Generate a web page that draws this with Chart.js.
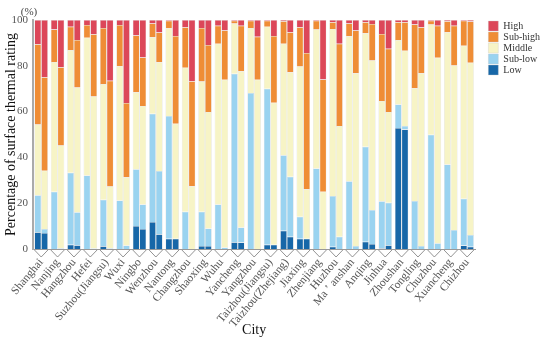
<!DOCTYPE html>
<html>
<head>
<meta charset="utf-8">
<script src="https://cdn.jsdelivr.net/npm/chart.js@4"></script>
<style>
  body { margin: 0; background: #fff; }
  #box { width: 550px; height: 345px; }
</style>
</head>
<body>
<div id="box"><canvas id="myChart"></canvas></div>
<script>
var cities = ["Shanghai", "Nanjing", "Hangzhou", "Hefei", "Suzhou(Jiangsu)", "Wuxi", "Ningbo", "Wenzhou", "Nantong",
  "Changzhou", "Shaoxing", "Wuhu", "Yancheng", "Yangzhou", "Taizhou(Jiangsu)", "Taizhou(Zhejiang)", "Jiaxing",
  "Zhenjiang", "Huzhou", "Ma ’ anshan", "Anqing", "Jinhua", "Zhoushan", "Tongling", "Chuzhou", "Xuancheng", "Chizhou"];

// first bar of each pair
var lowA     = [7.3, 0, 1.9, 0, 1.2, 0, 10.0, 11.8, 4.5, 0, 1.3, 0, 2.9, 0, 1.9, 8.0, 4.5, 0, 1.0, 0, 3.2, 0.3, 52.8, 0, 0, 0, 1.5];
var subLowA  = [16.2, 25.0, 31.4, 32.1, 20.3, 21.2, 24.8, 47.3, 53.6, 16.3, 15.0, 19.4, 73.6, 68.1, 68.1, 32.9, 9.6, 35.1, 22.1, 29.6, 41.4, 20.6, 10.3, 21.0, 49.9, 36.9, 20.4];
var middleA  = [30.9, 56.7, 53.6, 60.1, 50.6, 58.6, 33.7, 33.4, 38.3, 62.8, 56.8, 70.2, 22.0, 28.4, 27.1, 48.7, 65.6, 60.7, 73.0, 63.3, 49.6, 43.7, 28.2, 49.2, 48.1, 57.7, 66.9];
var subHighA = [35.0, 14.2, 10.2, 5.6, 24.4, 18.0, 24.7, 6.0, 3.3, 17.7, 23.4, 7.9, 1.2, 3.2, 2.6, 9.9, 17.1, 3.9, 2.9, 5.6, 4.8, 29.3, 7.7, 27.8, 1.7, 4.8, 10.9];
var highA    = [10.6, 4.1, 2.9, 2.2, 3.5, 2.2, 6.8, 1.5, 0.3, 3.2, 3.5, 2.5, 0.3, 0.3, 0.3, 0.5, 3.2, 0.3, 1.0, 1.5, 1.0, 6.1, 1.0, 2.0, 0.3, 0.6, 0.3];

// second bar of each pair
var lowB     = [7.0, 0, 1.6, 0, 0, 0, 8.7, 6.4, 4.5, 0, 1.3, 0, 2.8, 0, 1.9, 5.4, 4.5, 0, 0, 0, 2.2, 1.6, 52.2, 0, 0, 0, 1.0];
var subLowB  = [1.7, 0.3, 14.5, 0.2, 0.3, 1.5, 10.7, 27.7, 0, 0, 7.7, 0.7, 6.6, 0, 0, 26.1, 0, 0, 5.4, 1.3, 14.8, 18.6, 1.5, 1.3, 2.5, 8.3, 5.1];
var middleB  = [25.5, 44.9, 54.4, 66.4, 27.0, 29.8, 43.0, 47.5, 50.2, 27.4, 50.8, 73.2, 68.2, 73.9, 62.0, 45.7, 21.6, 25.0, 48.3, 75.5, 65.3, 39.6, 32.9, 75.5, 81.0, 71.8, 75.2];
var subHighB = [40.8, 34.2, 20.8, 27.2, 46.2, 32.5, 21.2, 12.9, 38.3, 45.9, 29.3, 21.5, 19.9, 18.8, 29.1, 17.4, 59.5, 49.0, 35.9, 18.6, 16.0, 27.6, 12.4, 20.0, 14.0, 17.4, 18.0];
var highB    = [25.0, 20.6, 8.7, 6.2, 26.5, 36.2, 16.4, 5.5, 7.0, 26.7, 10.9, 4.6, 2.5, 7.3, 7.0, 5.4, 14.4, 26.0, 10.4, 4.6, 1.7, 12.6, 1.0, 3.2, 2.5, 2.5, 0.7];

var ratings = ["Low", "Sub-low", "Middle", "Sub-high", "High"];
var colors = ["#1767a8", "#9ad3f0", "#f7f4c6", "#ef8d36", "#dc4759"];
var yTicks = [0, 20, 40, 60, 80, 100];

var serif = "'Liberation Serif', 'DejaVu Serif', serif";
var seriesA = [lowA, subLowA, middleA, subHighA, highA];
var seriesB = [lowB, subLowB, middleB, subHighB, highB];

var datasets = [];
[seriesA, seriesB].forEach(function (series, s) {
  series.forEach(function (vals, i) {
    datasets.push({
      label: ratings[i],
      data: vals,
      stack: s == 0 ? "a" : "b",
      backgroundColor: colors[i],
      borderColor: "rgba(200,200,200,0.7)",
      borderWidth: 0.5,
      categoryPercentage: 0.82,
      barPercentage: 1.0
    });
  });
});

// V shaped ticks under every city and the (%) label
var extras = {
  id: "extras",
  afterDraw: function (chart) {
    var ctx = chart.ctx;
    var xs = chart.scales.x;
    var area = chart.chartArea;
    var half = xs.width / cities.length * 0.82 / 2;
    ctx.save();
    ctx.strokeStyle = "#777";
    ctx.lineWidth = 0.8;
    ctx.beginPath();
    for (var i = 0; i < cities.length; i++) {
      var cx = xs.getPixelForValue(i);
      ctx.moveTo(cx - half, area.bottom + 1);
      ctx.lineTo(cx, area.bottom + 8);
      ctx.lineTo(cx + half, area.bottom + 1);
    }
    ctx.stroke();
    ctx.fillStyle = "#444";
    ctx.font = "11px " + serif;
    ctx.textAlign = "center";
    ctx.textBaseline = "bottom";
    ctx.fillText("(%)", area.left - 4, area.top - 2);
    ctx.restore();
  }
};

// leave a gap between the plot and the legend
var legendGap = {
  id: "legendGap",
  beforeInit: function (chart) {
    var lg = chart.legend;
    var fit = lg.fit;
    lg.fit = function () { fit.call(this); this.width += 12; };
  },
  afterLayout: function (chart) {
    chart.legend.left += 12;
  }
};

new Chart("myChart", {
  type: "bar",
  data: { labels: cities, datasets: datasets },
  options: {
    responsive: true,
    maintainAspectRatio: false,
    animation: false,
    layout: { padding: { top: 20, right: 0, left: 0, bottom: 0 } },
    plugins: {
      legend: {
        position: "right",
        align: "start",
        reverse: true,
        labels: {
          filter: function (item) { return item.datasetIndex < 5; },
          boxWidth: 10,
          boxHeight: 10,
          padding: 1,
          color: "#333",
          font: { family: serif, size: 10 }
        }
      },
      tooltip: { enabled: false }
    },
    scales: {
      x: {
        stacked: true,
        grid: { display: false, drawTicks: false },
        border: { color: "#999", width: 1 },
        afterFit: function (axis) { axis.height = 96; },
        ticks: {
          autoSkip: false,
          maxRotation: 50,
          minRotation: 50,
          padding: 7,
          color: "#555",
          font: { family: serif, size: 11.5 }
        },
        title: { display: true, text: "City", color: "#111", font: { family: serif, size: 14 }, padding: { top: 0, bottom: 6 } }
      },
      y: {
        stacked: true,
        min: 0,
        max: 100,
        afterBuildTicks: function (axis) {
          axis.ticks = yTicks.map(function (v) { return { value: v }; });
        },
        afterFit: function (axis) { axis.width = 33; },
        grid: { display: false, drawTicks: true, tickLength: 3, tickColor: "#999" },
        border: { color: "#aaa", width: 2 },
        ticks: { padding: 2, color: "#555", font: { family: serif, size: 11 } },
        title: { display: true, text: "Percentage of surface thermal rating", color: "#111", font: { family: serif, size: 14 }, padding: 3 }
      }
    }
  },
  plugins: [extras, legendGap]
});
</script>
</body>
</html>
